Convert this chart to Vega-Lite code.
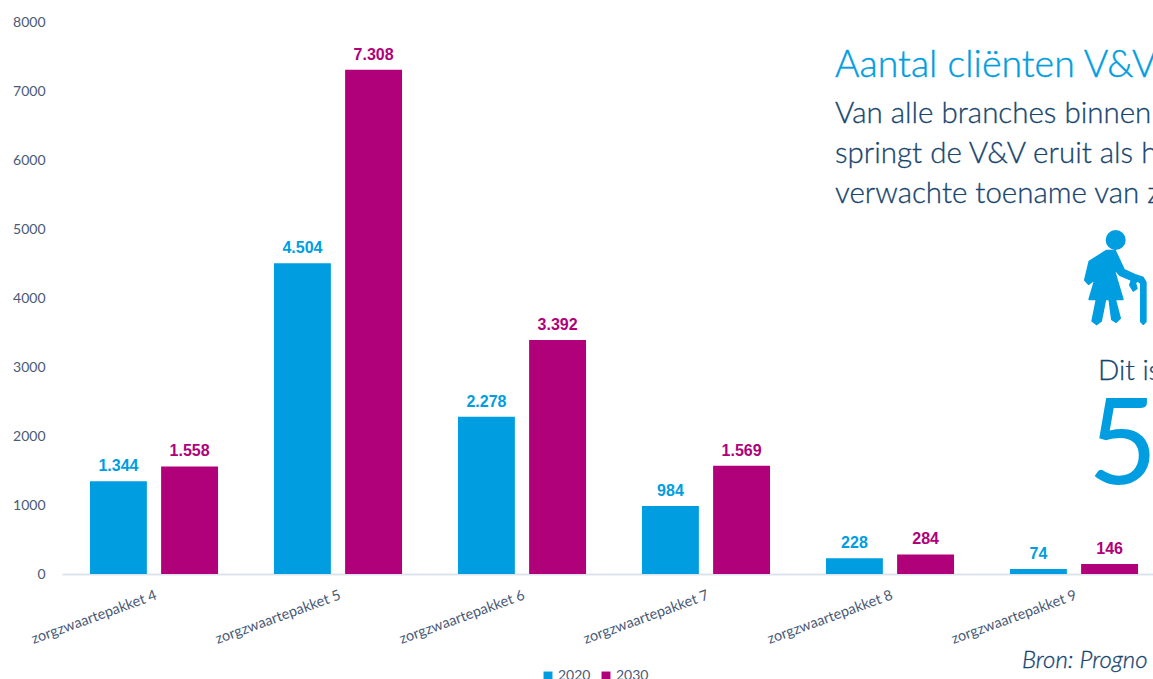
{"$schema":"https://vega.github.io/schema/vega-lite/v6.json","autosize":"none","padding":{"left":62,"top":22,"right":0,"bottom":105},"width":1104,"height":552,"background":"white","config":{"view":{"stroke":null}},"encoding":{"x":{"field":"cat","type":"nominal","sort":null,"title":null,"scale":{"domain":["zorgzwaartepakket 4","zorgzwaartepakket 5","zorgzwaartepakket 6","zorgzwaartepakket 7","zorgzwaartepakket 8","zorgzwaartepakket 9"],"paddingInner":0.304,"paddingOuter":0.152},"axis":{"labelAngle":-20,"labelAlign":"right","labelBaseline":"top","labelFont":"Lato","labelFontSize":14.5,"labelColor":"#4a5a75","labelPadding":14,"ticks":false,"domainColor":"#dde4ee","domainWidth":2,"labelLimit":300}},"y":{"field":"v","type":"quantitative","title":null,"scale":{"domain":[0,8000],"nice":false},"axis":{"values":[0,1000,2000,3000,4000,5000,6000,7000,8000],"format":"d","grid":false,"domain":false,"ticks":false,"labelFont":"Lato","labelFontSize":14,"labelColor":"#4a5a75","labelPadding":17}}},"layer":[{"data":{"name":"bars","values":[{"cat":"zorgzwaartepakket 4","jaar":"2020","v":1344,"label":"1.344"},{"cat":"zorgzwaartepakket 4","jaar":"2030","v":1558,"label":"1.558"},{"cat":"zorgzwaartepakket 5","jaar":"2020","v":4504,"label":"4.504"},{"cat":"zorgzwaartepakket 5","jaar":"2030","v":7308,"label":"7.308"},{"cat":"zorgzwaartepakket 6","jaar":"2020","v":2278,"label":"2.278"},{"cat":"zorgzwaartepakket 6","jaar":"2030","v":3392,"label":"3.392"},{"cat":"zorgzwaartepakket 7","jaar":"2020","v":984,"label":"984"},{"cat":"zorgzwaartepakket 7","jaar":"2030","v":1569,"label":"1.569"},{"cat":"zorgzwaartepakket 8","jaar":"2020","v":228,"label":"228"},{"cat":"zorgzwaartepakket 8","jaar":"2030","v":284,"label":"284"},{"cat":"zorgzwaartepakket 9","jaar":"2020","v":74,"label":"74"},{"cat":"zorgzwaartepakket 9","jaar":"2030","v":146,"label":"146"}]},"mark":{"type":"bar"},"encoding":{"xOffset":{"field":"jaar","type":"nominal","scale":{"paddingInner":0.2,"paddingOuter":0}},"color":{"field":"jaar","type":"nominal","scale":{"domain":["2020","2030"],"range":["#009ee0","#b0007a"]},"legend":{"title":null,"orient":"none","legendX":479,"legendY":647,"direction":"horizontal","symbolType":"square","symbolSize":80,"symbolOpacity":1,"labelFont":"Lato","labelFontSize":14,"labelColor":"#4a5a75","columnPadding":8,"labelOffset":3}}}},{"data":{"name":"bars"},"mark":{"type":"text","baseline":"bottom","dy":-7,"font":"Liberation Sans","fontWeight":"bold","fontSize":16},"encoding":{"xOffset":{"field":"jaar","type":"nominal","scale":{"paddingInner":0.2,"paddingOuter":0}},"color":{"field":"jaar","type":"nominal"},"text":{"field":"label"}}},{"data":{"values":[{"cat":"zorgzwaartepakket 8","v":7203,"t":"Aantal cliënten V&V"}]},"mark":{"type":"text","align":"left","baseline":"alphabetic","dx":-55,"font":"Lato","fontWeight":300,"fontSize":37.5,"color":"#009ee0","stroke":"#009ee0","strokeWidth":0.4},"encoding":{"text":{"field":"t"}}},{"data":{"values":[{"cat":"zorgzwaartepakket 8","v":6536,"t":"Van alle branches binnen"},{"cat":"zorgzwaartepakket 8","v":5957,"t":"springt de V&V eruit als h"},{"cat":"zorgzwaartepakket 8","v":5377,"t":"verwachte toename van z"}]},"mark":{"type":"text","align":"left","baseline":"alphabetic","dx":-55,"font":"Lato","fontWeight":300,"fontSize":29.5,"color":"#17456f","stroke":"#17456f","strokeWidth":0.3},"encoding":{"text":{"field":"t"}}},{"data":{"values":[{"cat":"zorgzwaartepakket 9","v":4290}]},"mark":{"type":"point","filled":true,"opacity":1,"xOffset":42,"size":8649,"color":"#009ee0","stroke":"#009ee0","strokeWidth":2,"strokeJoin":"round","shape":"M-0.201,-0.817 A0.194,0.194 0 1 0 0.187,-0.817 A0.194,0.194 0 1 0 -0.201,-0.817Z M-0.201,-0.588 L-0.022,-0.588 L0.172,-0.172 L0.409,-0.065 L0.573,-0.014 L0.638,0.093 L0.638,0.939 L0.588,0.989 L0.538,0.939 L0.538,0.115 L0.466,0.057 L0.409,0.1 L0.444,0.222 L0.373,0.272 L0.301,0.151 L0.337,0.043 L0.086,-0.065 L-0.057,-0.222 L0.143,0.459 L-0.022,0.459 L0.086,0.867 L0,0.946 L-0.086,0.889 L-0.143,0.459 L-0.229,0.459 L-0.323,0.925 L-0.416,0.996 L-0.509,0.925 L-0.416,0.459 L-0.573,0.459 L-0.365,-0.244 L-0.502,0.065 L-0.588,0.129 L-0.667,0.043 L-0.573,-0.351 Z"}},{"data":{"values":[{"cat":"zorgzwaartepakket 9","v":2812,"t":"Dit is"}]},"mark":{"type":"text","align":"left","baseline":"alphabetic","dx":24,"font":"Lato","fontWeight":300,"fontSize":28,"color":"#17456f","stroke":"#17456f","strokeWidth":0.3},"encoding":{"text":{"field":"t"}}},{"data":{"values":[{"cat":"zorgzwaartepakket 9","v":1304,"t":"5"}]},"mark":{"type":"text","align":"left","baseline":"alphabetic","dx":14,"font":"Lato","fontWeight":400,"fontSize":120,"color":"#009ee0"},"encoding":{"text":{"field":"t"}}},{"data":{"values":[{"cat":"zorgzwaartepakket 9","v":-1362,"t":"Bron: Progno"}]},"mark":{"type":"text","align":"left","baseline":"alphabetic","dx":-52,"font":"Lato","fontWeight":300,"fontStyle":"italic","fontSize":24,"color":"#17456f","stroke":"#17456f","strokeWidth":0.3},"encoding":{"text":{"field":"t"}}}]}
